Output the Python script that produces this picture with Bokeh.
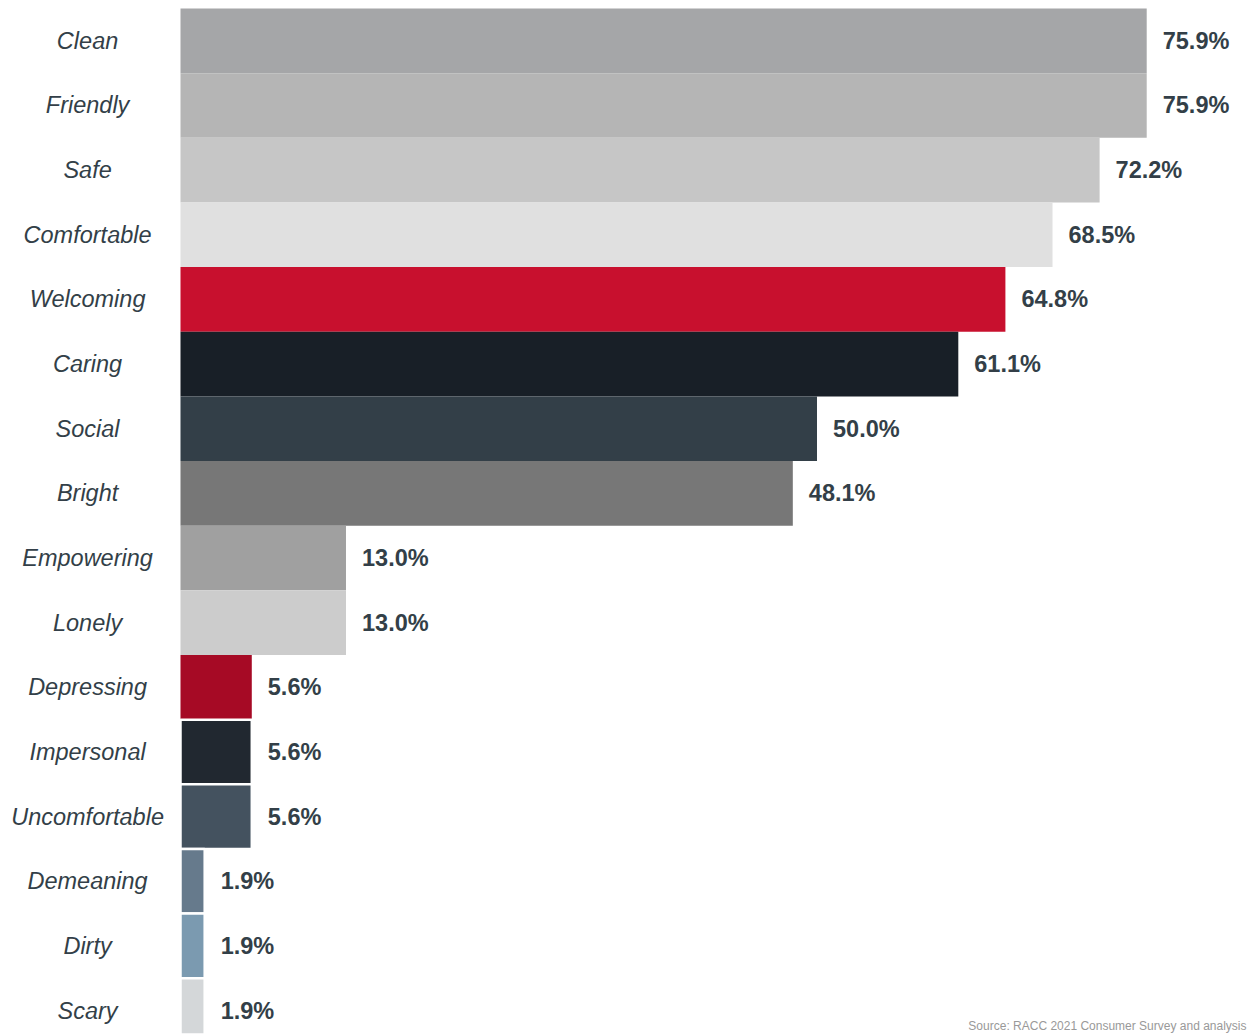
from bokeh.plotting import figure
from bokeh.models import ColumnDataSource, Range1d, Label
from bokeh.core.properties import value
from bokeh.embed import file_html
from bokeh.resources import INLINE

categories = ["Clean", "Friendly", "Safe", "Comfortable", "Welcoming", "Caring", "Social",
              "Bright", "Empowering", "Lonely", "Depressing", "Impersonal", "Uncomfortable",
              "Demeaning", "Dirty", "Scary"]
percent = [75.9, 75.9, 72.2, 68.5, 64.8, 61.1, 50.0, 48.1, 13.0, 13.0, 5.6, 5.6, 5.6, 1.9, 1.9, 1.9]
colors = ["#A5A6A8", "#B5B5B5", "#C6C6C6", "#E0E0E0", "#C8102E", "#181F27", "#333F48",
          "#777777", "#A0A0A0", "#CCCCCC", "#A60A25", "#212830", "#44525F",
          "#667A8C", "#7B9AB0", "#D4D7D9"]
outlined = [0, 0, 0, 0, 0, 0, 0, 0, 0, 0, 0, 1, 1, 1, 1, 1]
source_note = "Source: RACC 2021 Consumer Survey and analysis"

src = ColumnDataSource(dict(
    cat=categories,
    y=list(range(len(categories))),
    v=percent,
    color=colors,
    la=[float(o) for o in outlined],
    txt=[f"{v:.1f}%" for v in percent],
    lx=[-7.3] * len(categories),
))

W, H = 1249, 1034
px_per_unit = 12.73
row_px = 64.65
x0 = -180 / px_per_unit
y_top = -0.5 - 8 / row_px
p = figure(width=W, height=H, output_backend="svg", toolbar_location=None,
           x_range=Range1d(x0, x0 + W / px_per_unit),
           y_range=Range1d(y_top + H / row_px, y_top),
           x_axis_location=None, y_axis_location=None, min_border=0)
p.grid.visible = False
p.outline_line_color = None
p.background_fill_color = "white"

p.hbar(y="y", left=0, right="v", height=1.0, source=src, fill_color="color",
       line_color="white", line_width=2.5, line_alpha="la")

p.text(x="lx", y="y", text="cat", source=src, text_align="center", text_baseline="middle",
       text_font=value("Liberation Sans"), text_font_style="italic",
       text_font_size="23.5px", text_color="#333F48")

p.text(x="v", y="y", text="txt", source=src, x_offset=16, text_align="left",
       text_baseline="middle", text_font=value("Liberation Sans"), text_font_style="bold",
       text_font_size="23.5px", text_color="#333F48")

p.add_layout(Label(x=W - 3, y=2, x_units="screen", y_units="screen", text=source_note,
                   text_align="right", text_baseline="bottom", text_font="Liberation Sans",
                   text_font_size="12px", text_color="#999999",
                   background_fill_color="white", background_fill_alpha=0.85))

open("out.html", "w").write(file_html(p, INLINE))
